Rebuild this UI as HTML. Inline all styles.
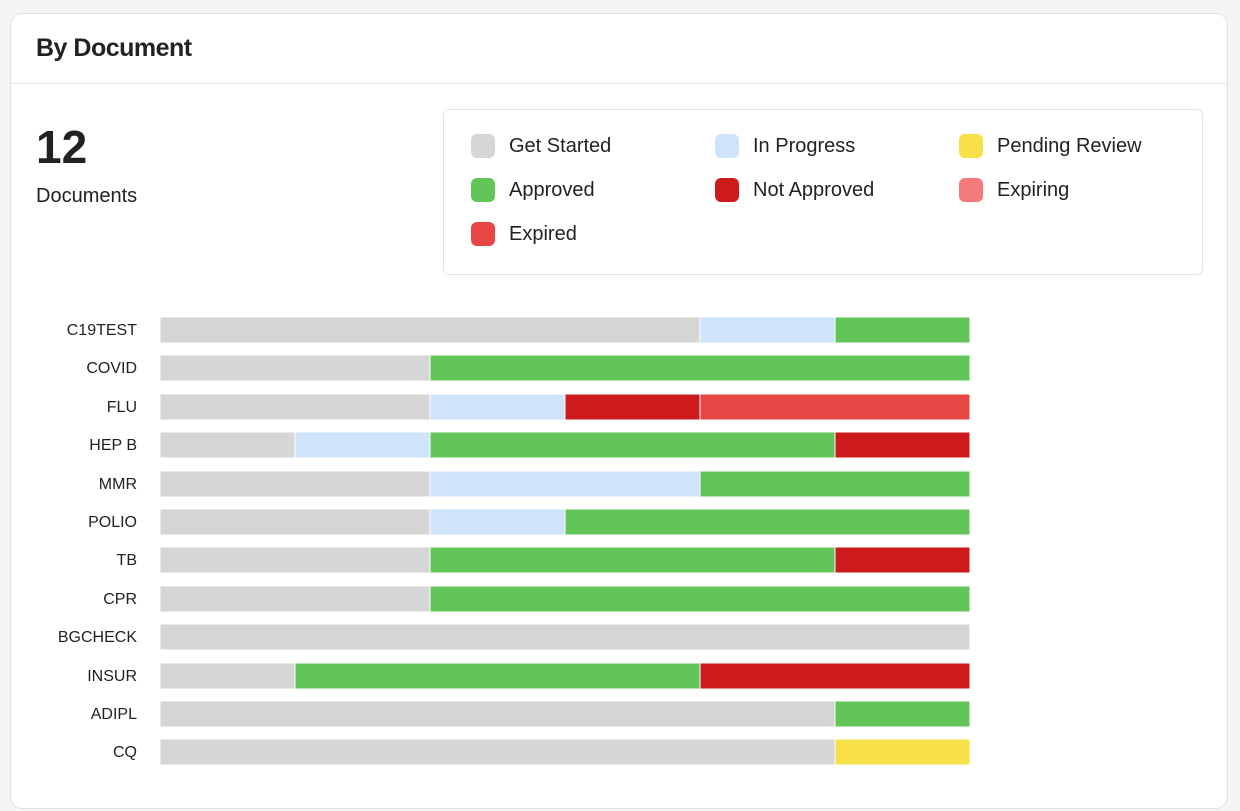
<!DOCTYPE html>
<html><head><style>
body{margin:0;width:1240px;height:811px;background:#f5f5f5;font-family:"Liberation Sans",sans-serif;color:#222;overflow:hidden;position:relative}
.card{position:absolute;left:10px;top:13px;width:1218px;height:796px;background:#fff;border:1px solid #e2e2e2;border-radius:12px;box-sizing:border-box}
.hdr{position:absolute;left:36px;top:34px;font-size:25px;font-weight:bold;letter-spacing:-0.5px}
.div{position:absolute;left:11px;top:83px;width:1217px;height:1px;background:#e4e4e4}
.num{position:absolute;left:36px;top:120px;font-size:46px;font-weight:bold}
.docs{position:absolute;left:36px;top:185px;font-size:20px}
.leg{position:absolute;left:443px;top:109px;width:760px;height:166px;border:1px solid #e2e2e2;border-radius:6px;box-sizing:border-box;background:#fff}
.li{position:absolute;font-size:20px;line-height:24px}
.sw{position:absolute;width:24px;height:24px;border-radius:6px}
.lab{position:absolute;right:1103px;font-size:16px;text-align:right;white-space:nowrap}
</style></head><body>
<div class="card"></div>
<div class="hdr">By Document</div>
<div class="div"></div>
<div class="num">12</div>
<div class="docs">Documents</div>
<div class="leg"></div>
<div class="sw" style="left:471px;top:134px;background:#d6d6d6"></div><div class="li" style="left:509px;top:134px">Get Started</div>
<div class="sw" style="left:715px;top:134px;background:#cfe3fb"></div><div class="li" style="left:753px;top:134px">In Progress</div>
<div class="sw" style="left:959px;top:134px;background:#f7e048"></div><div class="li" style="left:997px;top:134px">Pending Review</div>
<div class="sw" style="left:471px;top:178px;background:#62c558"></div><div class="li" style="left:509px;top:178px">Approved</div>
<div class="sw" style="left:715px;top:178px;background:#cd1b1d"></div><div class="li" style="left:753px;top:178px">Not Approved</div>
<div class="sw" style="left:959px;top:178px;background:#f47a7a"></div><div class="li" style="left:997px;top:178px">Expiring</div>
<div class="sw" style="left:471px;top:222px;background:#e84545"></div><div class="li" style="left:509px;top:222px">Expired</div>

<div class="lab" style="top:322px">C19TEST</div>
<div class="lab" style="top:360px">COVID</div>
<div class="lab" style="top:399px">FLU</div>
<div class="lab" style="top:437px">HEP B</div>
<div class="lab" style="top:476px">MMR</div>
<div class="lab" style="top:514px">POLIO</div>
<div class="lab" style="top:552px">TB</div>
<div class="lab" style="top:591px">CPR</div>
<div class="lab" style="top:629px">BGCHECK</div>
<div class="lab" style="top:668px">INSUR</div>
<div class="lab" style="top:706px">ADIPL</div>
<div class="lab" style="top:744px">CQ</div>

<svg width="1240" height="811" style="position:absolute;left:0;top:0">
<g stroke="#fff" stroke-width="1">
<rect x="160" y="317" width="540" height="26" fill="#d6d6d6"/><rect x="700" y="317" width="135" height="26" fill="#cfe3fb"/><rect x="835" y="317" width="135" height="26" fill="#62c558"/>
<rect x="160" y="355" width="270" height="26" fill="#d6d6d6"/><rect x="430" y="355" width="540" height="26" fill="#62c558"/>
<rect x="160" y="394" width="270" height="26" fill="#d6d6d6"/><rect x="430" y="394" width="135" height="26" fill="#cfe3fb"/><rect x="565" y="394" width="135" height="26" fill="#cd1b1d"/><rect x="700" y="394" width="270" height="26" fill="#e84545"/>
<rect x="160" y="432" width="135" height="26" fill="#d6d6d6"/><rect x="295" y="432" width="135" height="26" fill="#cfe3fb"/><rect x="430" y="432" width="405" height="26" fill="#62c558"/><rect x="835" y="432" width="135" height="26" fill="#cd1b1d"/>
<rect x="160" y="471" width="270" height="26" fill="#d6d6d6"/><rect x="430" y="471" width="270" height="26" fill="#cfe3fb"/><rect x="700" y="471" width="270" height="26" fill="#62c558"/>
<rect x="160" y="509" width="270" height="26" fill="#d6d6d6"/><rect x="430" y="509" width="135" height="26" fill="#cfe3fb"/><rect x="565" y="509" width="405" height="26" fill="#62c558"/>
<rect x="160" y="547" width="270" height="26" fill="#d6d6d6"/><rect x="430" y="547" width="405" height="26" fill="#62c558"/><rect x="835" y="547" width="135" height="26" fill="#cd1b1d"/>
<rect x="160" y="586" width="270" height="26" fill="#d6d6d6"/><rect x="430" y="586" width="540" height="26" fill="#62c558"/>
<rect x="160" y="624" width="810" height="26" fill="#d6d6d6"/>
<rect x="160" y="663" width="135" height="26" fill="#d6d6d6"/><rect x="295" y="663" width="405" height="26" fill="#62c558"/><rect x="700" y="663" width="270" height="26" fill="#cd1b1d"/>
<rect x="160" y="701" width="675" height="26" fill="#d6d6d6"/><rect x="835" y="701" width="135" height="26" fill="#62c558"/>
<rect x="160" y="739" width="675" height="26" fill="#d6d6d6"/><rect x="835" y="739" width="135" height="26" fill="#f7e048"/>
</g>
</svg>
</body></html>
